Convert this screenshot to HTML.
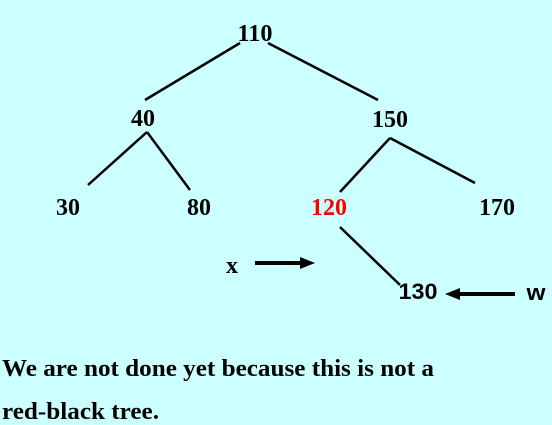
<!DOCTYPE html>
<html><head><meta charset="utf-8"><style>
html,body{margin:0;padding:0;background:#ccffff;}
svg{display:block}
.n{font-family:"Liberation Serif",serif;font-weight:bold;font-size:24px;}
.s{font-family:"Liberation Sans",sans-serif;font-weight:bold;font-size:22px;}
</style></head><body>
<svg width="552" height="425" viewBox="0 0 552 425">
<rect width="552" height="425" fill="#ccffff"/>
<g stroke="#000" stroke-width="2.5" fill="none">
<line x1="240" y1="43" x2="145" y2="100"/>
<line x1="268" y1="43" x2="378" y2="100"/>
<line x1="147" y1="132" x2="88" y2="185"/>
<line x1="147" y1="132" x2="190" y2="190"/>
<line x1="390" y1="138" x2="340" y2="192"/>
<line x1="390" y1="138" x2="475" y2="183"/>
<line x1="340" y1="227" x2="400" y2="285"/>
</g>
<text class="n" x="255" y="41" text-anchor="middle" textLength="35" lengthAdjust="spacingAndGlyphs">110</text>
<text class="n" x="143" y="126" text-anchor="middle" textLength="24" lengthAdjust="spacingAndGlyphs">40</text>
<text class="n" x="390" y="127" text-anchor="middle" textLength="36" lengthAdjust="spacingAndGlyphs">150</text>
<text class="n" x="68" y="215" text-anchor="middle" textLength="24" lengthAdjust="spacingAndGlyphs">30</text>
<text class="n" x="199" y="215" text-anchor="middle" textLength="24" lengthAdjust="spacingAndGlyphs">80</text>
<text class="n" x="329" y="215" text-anchor="middle" fill="#ff0000" textLength="36" lengthAdjust="spacingAndGlyphs">120</text>
<text class="n" x="497" y="215" text-anchor="middle" textLength="36" lengthAdjust="spacingAndGlyphs">170</text>
<text class="s" x="418" y="299" text-anchor="middle" textLength="39" lengthAdjust="spacingAndGlyphs">130</text>
<text class="n" x="232" y="273" text-anchor="middle">x</text>
<g>
<line x1="255" y1="263" x2="302" y2="263" stroke="#000" stroke-width="4"/>
<polygon points="300,257 315,263 300,269" fill="#000"/>
</g>
<g>
<line x1="458" y1="294" x2="515" y2="294" stroke="#000" stroke-width="4"/>
<polygon points="460,288 445,294 460,300" fill="#000"/>
</g>
<text class="s" x="536" y="300" text-anchor="middle" textLength="19" lengthAdjust="spacingAndGlyphs">w</text>
<text class="n" x="2" y="376" textLength="432" lengthAdjust="spacingAndGlyphs">We are not done yet because this is not a</text>
<text class="n" x="2" y="419" textLength="157" lengthAdjust="spacingAndGlyphs">red-black tree.</text>
</svg>
</body></html>
